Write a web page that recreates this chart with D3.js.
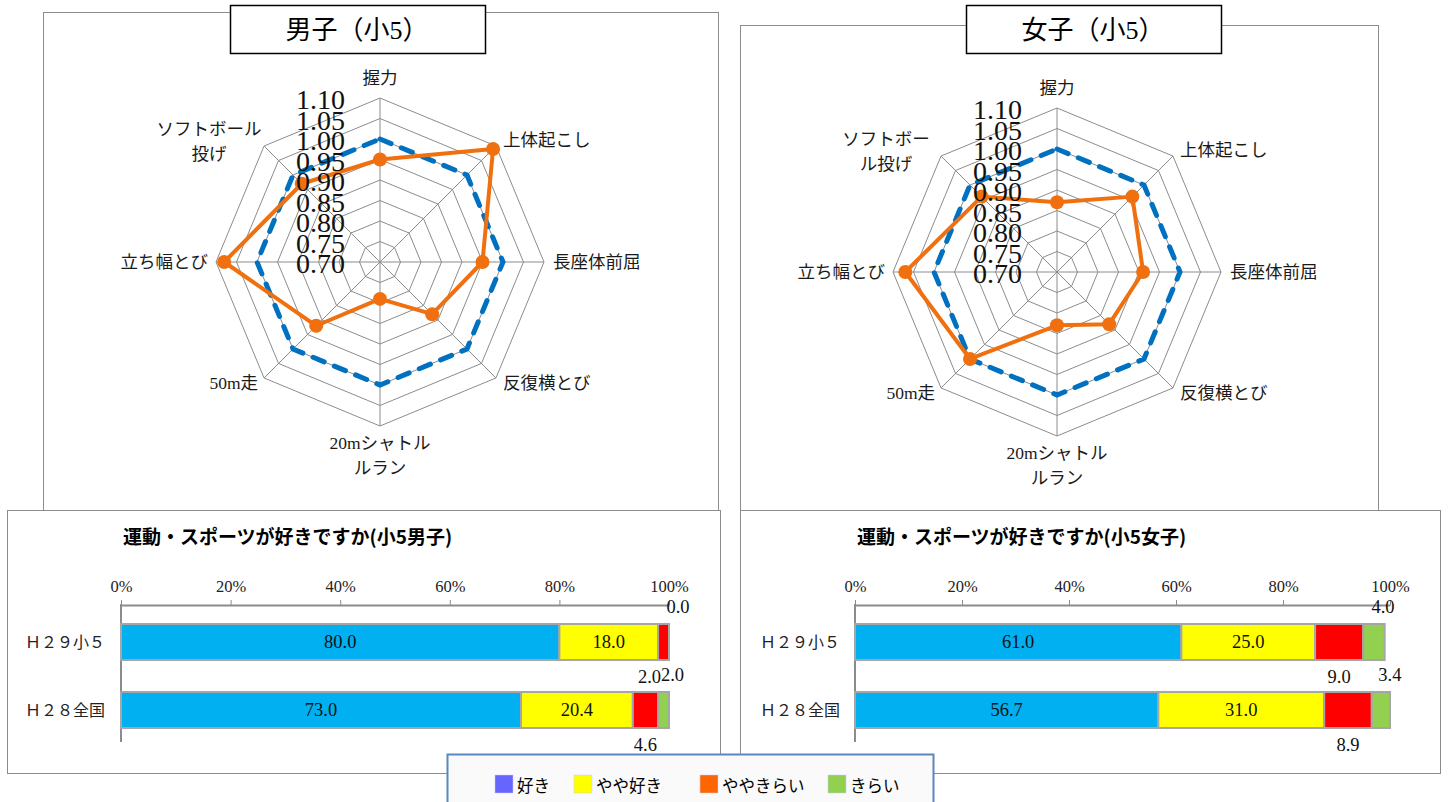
<!DOCTYPE html>
<html>
<head>
<meta charset="utf-8">
<script src="https://cdn.jsdelivr.net/npm/d3@7"></script>
<style>
  body { margin: 0; background: #fff; }
  .serif { font-family: "Liberation Serif", "Noto Sans CJK JP", serif; }
  .sans { font-family: "Noto Sans CJK JP", "Noto Sans", sans-serif; }
</style>
</head>
<body>
<svg id="chart" width="1448" height="802"></svg>
<script>
  // radar data: ratio to national average (1.00 = national)
  const radarAxes = ["握力", "上体起こし", "長座体前屈", "反復横とび", "20mシャトルラン", "50m走", "立ち幅とび", "ソフトボール投げ"];
  const boysAxisLines = [["握力"], ["上体起こし"], ["長座体前屈"], ["反復横とび"], ["20mシャトル", "ルラン"], ["50m走"], ["立ち幅とび"], ["ソフトボール", "投げ"]];
  const girlsAxisLines = [["握力"], ["上体起こし"], ["長座体前屈"], ["反復横とび"], ["20mシャトル", "ルラン"], ["50m走"], ["立ち幅とび"], ["ソフトボー", "ル投げ"]];
  const radarTicks = [0.70, 0.75, 0.80, 0.85, 0.90, 0.95, 1.00, 1.05, 1.10];
  const nationalRatio = [1.00, 1.00, 1.00, 1.00, 1.00, 1.00, 1.00, 1.00];
  const boysRatio = [0.95, 1.09, 0.95, 0.88, 0.79, 0.92, 1.08, 0.97];
  const girlsRatio = [0.87, 0.96, 0.91, 0.88, 0.83, 1.00, 1.07, 0.96];

  // bar data: 運動・スポーツが好きですか (%)
  const barCategories = ["Ｈ２９小５", "Ｈ２８全国"];
  const answerKeys = ["好き", "やや好き", "ややきらい", "きらい"];
  const boysAnswers = [[80.0, 18.0, 2.0, 0.0], [73.0, 20.4, 4.6, 2.0]];
  const girlsAnswers = [[61.0, 25.0, 9.0, 4.0], [56.7, 31.0, 8.9, 3.4]];
  const percentTicks = [0, 20, 40, 60, 80, 100];

  const barColors = ["#00B0F0", "#FFFF00", "#FF0000", "#92D050"];
  const legendColors = ["#6666FF", "#FFFF00", "#FF6600", "#92D050"];

  const svg = d3.select("#chart");

  // panel frames
  const frame = (x, y, w, h, stroke) =>
    svg.append("rect").attr("x", x).attr("y", y).attr("width", w).attr("height", h)
       .attr("fill", "#fff").attr("stroke", stroke || "#8c8c8c").attr("stroke-width", 1);

  frame(43.5, 12.5, 675, 498);
  frame(740.5, 25.5, 638, 485);
  frame(7.5, 510.5, 713, 263);
  frame(740.5, 510.5, 700, 263);

  function drawRadar(cx, cy, ratio, lines, title, titleX) {
    const R = 164;
    const r = d3.scaleLinear().domain([0.70, 1.10]).range([0, R]);
    const n = radarAxes.length;
    const ang = i => i * 2 * Math.PI / n;
    const g = svg.append("g").attr("transform", `translate(${cx},${cy})`);

    const ring = d3.lineRadial().angle((d, i) => ang(i)).radius(d => r(d)).curve(d3.curveLinearClosed);

    radarTicks.slice(1).forEach(t => {
      g.append("path").attr("d", ring(radarAxes.map(() => t)))
       .attr("fill", "none").attr("stroke", "#8c8c8c").attr("stroke-width", 1);
    });
    radarAxes.forEach((a, i) => {
      g.append("line").attr("x1", 0).attr("y1", 0)
       .attr("x2", R * Math.sin(ang(i))).attr("y2", -R * Math.cos(ang(i)))
       .attr("stroke", "#8c8c8c").attr("stroke-width", 1);
    });

    // national average (dashed blue)
    g.append("path").attr("d", ring(nationalRatio))
     .attr("fill", "none").attr("stroke", "#0070C0").attr("stroke-width", 5)
     .attr("stroke-dasharray", "12,11").attr("stroke-linecap", "round");

    // prefecture (orange)
    g.append("path").attr("d", ring(ratio))
     .attr("fill", "none").attr("stroke", "#F0700F").attr("stroke-width", 4)
     .attr("stroke-linejoin", "round");
    g.selectAll("circle.pt").data(ratio).enter().append("circle")
     .attr("class", "pt")
     .attr("cx", (d, i) => r(d) * Math.sin(ang(i)))
     .attr("cy", (d, i) => -r(d) * Math.cos(ang(i)))
     .attr("r", 7).attr("fill", "#F0700F");

    // tick values
    g.selectAll("text.tick").data(radarTicks).enter().append("text")
     .attr("class", "serif tick")
     .attr("x", -35).attr("y", d => -r(d) + 11)
     .attr("text-anchor", "end").attr("font-size", 28).attr("fill", "#111")
     .text(d => d.toFixed(2));

    // axis labels
    const place = [
      { a: "middle", dx: 0, dy: [-14] },
      { a: "start", dx: 7, dy: [0] },
      { a: "start", dx: 9, dy: [6] },
      { a: "start", dx: 7, dy: [11] },
      { a: "middle", dx: 0, dy: [23, 48] },
      { a: "end", dx: -6, dy: [11] },
      { a: "end", dx: -8, dy: [6] },
      { a: "middle", dx: -55, dy: [-11, 14] }
    ];
    lines.forEach((ls, i) => {
      const vx = R * Math.sin(ang(i)), vy = -R * Math.cos(ang(i));
      const p = place[i];
      ls.forEach((s, k) => {
        g.append("text").attr("class", "serif")
         .attr("x", vx + p.dx).attr("y", vy + p.dy[k])
         .attr("text-anchor", p.a).attr("font-size", 17.5).attr("fill", "#1a1a1a")
         .text(s);
      });
    });

    // title box
    svg.append("rect").attr("x", titleX + 0.5).attr("y", 5.5).attr("width", 255).attr("height", 48)
       .attr("fill", "#fff").attr("stroke", "#000").attr("stroke-width", 1.5);
    svg.append("text").attr("class", "serif")
       .attr("x", titleX + 127).attr("y", 39).attr("text-anchor", "middle")
       .attr("font-size", 26).attr("fill", "#000").text(title);
  }

  drawRadar(380, 262, boysRatio, boysAxisLines, "男子（小5）", 230);
  drawRadar(1057, 272, girlsRatio, girlsAxisLines, "女子（小5）", 966);

  function drawBars(x0, x1, data, title, catRight) {
    const x = d3.scaleLinear().domain([0, 100]).range([x0, x1]);
    const y = d3.scaleBand().domain(barCategories).range([608, 744]).paddingInner(0.47).paddingOuter(0.235);
    const g = svg.append("g");

    g.append("text").attr("class", "sans")
     .attr("x", x0 + 2).attr("y", 544).attr("font-size", 19).attr("font-weight", "bold")
     .attr("fill", "#000").text(title);

    const ax = g.append("g").attr("transform", "translate(0,605)")
      .call(d3.axisTop(x).tickValues(percentTicks).tickFormat(d => d + "%").tickSize(5).tickSizeOuter(0).tickPadding(8));
    ax.select(".domain").attr("stroke", "#8c8c8c").attr("stroke-width", 2);
    ax.selectAll(".tick line").attr("stroke", "#8c8c8c");
    ax.selectAll(".tick text").attr("class", "serif").attr("font-size", 16.5).attr("fill", "#222");

    g.append("line").attr("x1", x0).attr("x2", x0).attr("y1", 604).attr("y2", 742)
     .attr("stroke", "#8c8c8c").attr("stroke-width", 2);

    g.selectAll("text.cat").data(barCategories).enter().append("text")
     .attr("class", "serif cat").attr("x", catRight).attr("y", d => y(d) + y.bandwidth() / 2 + 6)
     .attr("text-anchor", "end").attr("font-size", 16).attr("fill", "#222").text(d => d);

    data.forEach((row, ri) => {
      const cat = barCategories[ri];
      const stack = d3.cumsum(row);
      row.forEach((v, k) => {
        const start = k === 0 ? 0 : stack[k - 1];
        const end = stack[k];
        g.append("rect").attr("x", x(start)).attr("y", y(cat))
         .attr("width", Math.max(0, x(end) - x(start))).attr("height", y.bandwidth())
         .attr("fill", barColors[k]).attr("stroke", "#a6a6a6").attr("stroke-width", 2);
        const mid = (x(start) + x(end)) / 2;
        let lx = mid, ly = y(cat) + y.bandwidth() / 2 + 6;
        if (k === 2) { ly = y(cat) + y.bandwidth() + 23; if (v < 3) lx -= 14; }
        if (k === 3) { ly = y(cat) - 11; lx += 9; }
        g.append("text").attr("class", "serif")
         .attr("x", lx).attr("y", ly).attr("text-anchor", "middle")
         .attr("font-size", 18.5).attr("fill", "#111").text(v.toFixed(1));
      });
    });
  }

  drawBars(121, 669, boysAnswers, "運動・スポーツが好きですか(小5男子)", 105);
  drawBars(855, 1390, girlsAnswers, "運動・スポーツが好きですか(小5女子)", 840);

  // legend
  const lg = svg.append("g");
  lg.append("rect").attr("x", 447.5).attr("y", 754.5).attr("width", 486).attr("height", 60)
    .attr("fill", "#fafafa").attr("stroke", "#5B87C0").attr("stroke-width", 2);
  const legendX = [495, 574, 700, 828];
  answerKeys.forEach((k, i) => {
    lg.append("rect").attr("x", legendX[i]).attr("y", 775).attr("width", 18).attr("height", 18)
      .attr("fill", legendColors[i]).attr("stroke", "#c8c8ff").attr("stroke-width", 0.5);
    lg.append("text").attr("class", "sans").attr("x", legendX[i] + 22).attr("y", 792)
      .attr("font-size", 16.5).attr("fill", "#000").text(k);
  });
</script>
</body>
</html>
